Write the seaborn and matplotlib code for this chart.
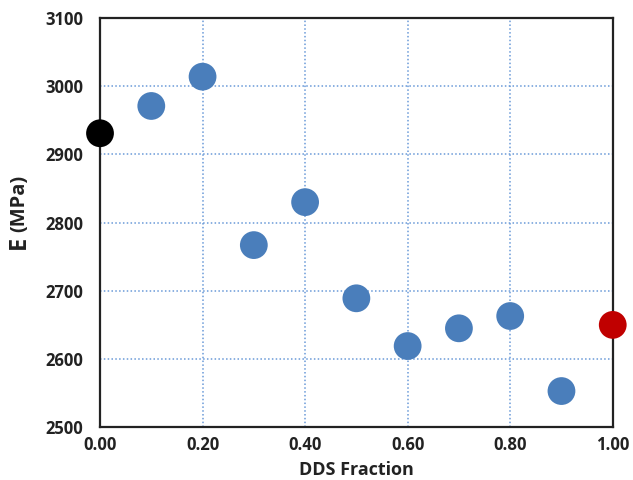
import matplotlib
matplotlib.use("Agg")
import matplotlib.pyplot as plt
import seaborn as sns
import pandas as pd

fraction = [0.0, 0.1, 0.2, 0.3, 0.4, 0.5, 0.6, 0.7, 0.8, 0.9, 1.0]
modulus = [2931, 2971, 3014, 2767, 2830, 2689, 2619, 2645, 2663, 2553, 2650]
group = ["start", "mid", "mid", "mid", "mid", "mid", "mid", "mid", "mid", "mid", "end"]
palette = {"start": "#000000", "mid": "#4A7EBB", "end": "#C00000"}
x_ticks = [0.0, 0.2, 0.4, 0.6, 0.8, 1.0]
y_ticks = [2500, 2600, 2700, 2800, 2900, 3000, 3100]

df = pd.DataFrame({"fraction": fraction, "modulus": modulus, "group": group})

sns.set_style("white")
plt.rcParams['font.family'] = ['Open Sans', 'DejaVu Sans']

fig = plt.figure(figsize=(6.33, 4.80), dpi=100)
ax = fig.add_axes([0.158, 0.110, 0.810, 0.8525])

ax.grid(True, color="#6A9AD8", linestyle=(0, (1, 1.5)), linewidth=1.1)
ax.set_axisbelow(True)

sns.scatterplot(data=df, x="fraction", y="modulus", hue="group", palette=palette,
                s=400, edgecolor="none", legend=False, ax=ax, clip_on=False, zorder=5)

ax.set_xlim(0, 1.0)
ax.set_ylim(2500, 3100)
ax.set_xticks(x_ticks)
ax.set_xticklabels([f"{v:.2f}" for v in x_ticks])
ax.set_yticks(y_ticks)
ax.set_yticklabels([str(v) for v in y_ticks])

for s in ax.spines.values():
    s.set_color("#222222")
    s.set_linewidth(1.6)

ax.tick_params(axis="both", direction="in", length=8, width=1.6, color="#222222",
               labelsize=12)
ax.tick_params(axis="x", pad=6)
ax.tick_params(axis="y", pad=12)
for lbl in ax.get_xticklabels() + ax.get_yticklabels():
    lbl.set_fontweight("bold")
    lbl.set_color("#222222")

ax.set_xlabel("DDS Fraction", fontsize=13, fontweight="bold", color="#222222", labelpad=5.5)
ax.set_ylabel("")
fig.text(0.030, 0.508, "E", fontsize=17, fontweight="bold", rotation=90,
         ha="center", va="top", color="#222222")
fig.text(0.030, 0.517, "(MPa)", fontsize=14.5, fontweight="bold", rotation=90,
         ha="center", va="bottom", color="#222222")

fig.savefig("out.png", dpi=100)
